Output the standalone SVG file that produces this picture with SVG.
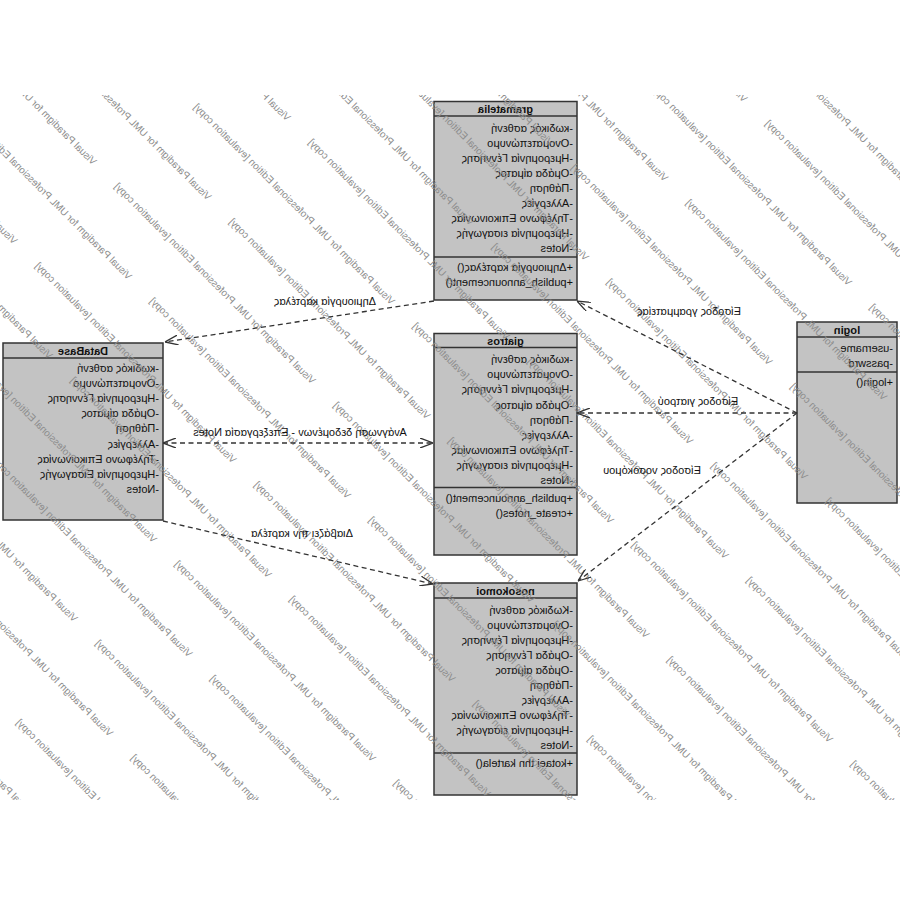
<svg xmlns="http://www.w3.org/2000/svg" width="900" height="900" viewBox="0 0 900 900">
<style>
.box{fill:#c3c3c3;stroke:#333;stroke-width:1.5}
.sep{stroke:#333;stroke-width:1.5}
.t{font-family:"Liberation Sans",Arial,sans-serif;font-size:11px;fill:#111}
.n{font-weight:bold;text-anchor:middle}
.lbl{text-anchor:middle}
.wm{font-family:"Liberation Sans",Arial,sans-serif;font-size:10px;fill:#8c8c8c}
.c{fill:none;stroke:#333;stroke-width:1.3;stroke-dasharray:5 3.5}
</style>
<defs>
<marker id="arr" viewBox="0 0 13 10" refX="13" refY="5" markerWidth="13" markerHeight="10" markerUnits="userSpaceOnUse" orient="auto-start-reverse"><path d="M0,0 L13,5 L0,10" fill="none" stroke="#333" stroke-width="1.3"/></marker>
<clipPath id="wmclip"><rect x="0" y="95" width="900" height="705"/></clipPath>
</defs>
<rect width="900" height="900" fill="#fff"/>
<g transform="matrix(-1 0 0 1 900 0)">
<g id="gramatelia">
<rect class="box" x="323" y="101.5" width="143" height="198.5"/>
<line class="sep" x1="323" y1="116" x2="466" y2="116"/>
<line class="sep" x1="323" y1="257" x2="466" y2="257"/>
<text class="t n" x="394.5" y="112.5">gramatelia</text>
<text class="t" x="327" y="132">-κωδικός ασθενή</text>
<text class="t" x="327" y="147">-Ονοματεπώνυμο</text>
<text class="t" x="327" y="162">-Ημερομηνία Γέννησης</text>
<text class="t" x="327" y="177">-Ομάδα αίματος</text>
<text class="t" x="327" y="192">-Πάθηση</text>
<text class="t" x="327" y="207">-Αλλεργίες</text>
<text class="t" x="327" y="222">-Τηλέφωνο Επικοινωνίας</text>
<text class="t" x="327" y="237">-Ημερομηνία εισαγωγής</text>
<text class="t" x="327" y="252">-Notes</text>
<text class="t" x="327" y="271">+Δημιουργία καρτέλας()</text>
<text class="t" x="327" y="286">+publish_announcement()</text>
</g>
<g id="giatros">
<rect class="box" x="323" y="333.5" width="143" height="221.5"/>
<line class="sep" x1="323" y1="347.5" x2="466" y2="347.5"/>
<line class="sep" x1="323" y1="487.5" x2="466" y2="487.5"/>
<text class="t n" x="394.5" y="344.5">giatros</text>
<text class="t" x="327" y="363">-κωδικός ασθενή</text>
<text class="t" x="327" y="378">-Ονοματεπώνυμο</text>
<text class="t" x="327" y="393">-Ημερομηνία Γέννησης</text>
<text class="t" x="327" y="408.5">-Ομάδα αίματος</text>
<text class="t" x="327" y="423.5">-Πάθηση</text>
<text class="t" x="327" y="438.5">-Αλλεργίες</text>
<text class="t" x="327" y="454">-Τηλέφωνο Επικοινωνίας</text>
<text class="t" x="327" y="469">-Ημερομηνία εισαγωγής</text>
<text class="t" x="327" y="484">-Notes</text>
<text class="t" x="327" y="502">+publish_announcement()</text>
<text class="t" x="327" y="517">+create_notes()</text>
</g>
<g id="nosokomoi">
<rect class="box" x="323" y="583" width="143" height="212"/>
<line class="sep" x1="323" y1="598" x2="466" y2="598"/>
<line class="sep" x1="323" y1="753" x2="466" y2="753"/>
<text class="t n" x="394.5" y="594.5">nosokomoi</text>
<text class="t" x="327" y="614">-Κωδικός ασθενή</text>
<text class="t" x="327" y="629">-Ονοματεπώνυμο</text>
<text class="t" x="327" y="644">-Ημερομηνία Γέννησης</text>
<text class="t" x="327" y="659">-Ομάδα Γέννησης</text>
<text class="t" x="327" y="674">-Ομάδα αίματος</text>
<text class="t" x="327" y="689">-Πάθηση</text>
<text class="t" x="327" y="704">-Αλλεργίες</text>
<text class="t" x="327" y="719">-Τηλέφωνο Επικοινωνίας</text>
<text class="t" x="327" y="734">-Ημερομηνία εισαγωγής</text>
<text class="t" x="327" y="749">-Notes</text>
<text class="t" x="327" y="767">+kotaei thn kartela()</text>
</g>
<g id="DataBase">
<rect class="box" x="737" y="343" width="160" height="177"/>
<line class="sep" x1="737" y1="358" x2="897" y2="358"/>
<text class="t n" x="817" y="354.5">DataBase</text>
<text class="t" x="741" y="372">-κωδικός ασθενή</text>
<text class="t" x="741" y="387">-Ονοματεπώνυμο</text>
<text class="t" x="741" y="402">-Ημερομηνία Γέννησης</text>
<text class="t" x="741" y="417">-Ομάδα αίματος</text>
<text class="t" x="741" y="432">-Πάθηση</text>
<text class="t" x="741" y="447.5">-Αλλεργίες</text>
<text class="t" x="741" y="462.5">-Τηλέφωνο Επικοινωνίας</text>
<text class="t" x="741" y="477.5">-Ημερομηνία Εισαγωγής</text>
<text class="t" x="741" y="493">-Notes</text>
</g>
<g id="login">
<rect class="box" x="3" y="322" width="100" height="181"/>
<line class="sep" x1="3" y1="337" x2="103" y2="337"/>
<line class="sep" x1="3" y1="372" x2="103" y2="372"/>
<text class="t n" x="53" y="333.5">login</text>
<text class="t" x="7" y="352">-username</text>
<text class="t" x="7" y="367">-passwrd</text>
<text class="t" x="7" y="386">+login()</text>
</g>
<g id="watermark" clip-path="url(#wmclip)" class="wm">
<text y="3.5" transform="translate(867.9,813.9) rotate(-45)">Visual Paradigm for UML Professional Edition [evaluation copy]</text>
<text y="3.5" transform="translate(684.3,918.3) rotate(-45)">Visual Paradigm for UML Professional Edition [evaluation copy]</text>
<text y="3.5" transform="translate(788.6,734.6) rotate(-45)">Visual Paradigm for UML Professional Edition [evaluation copy]</text>
<text y="3.5" transform="translate(569.6,953.6) rotate(-45)">Visual Paradigm for UML Professional Edition [evaluation copy]</text>
<text y="3.5" transform="translate(824,620) rotate(-45)">Visual Paradigm for UML Professional Edition [evaluation copy]</text>
<text y="3.5" transform="translate(605,839) rotate(-45)">Visual Paradigm for UML Professional Edition [evaluation copy]</text>
<text y="3.5" transform="translate(709.3,655.3) rotate(-45)">Visual Paradigm for UML Professional Edition [evaluation copy]</text>
<text y="3.5" transform="translate(490.3,874.3) rotate(-45)">Visual Paradigm for UML Professional Edition [evaluation copy]</text>
<text y="3.5" transform="translate(744.7,540.7) rotate(-45)">Visual Paradigm for UML Professional Edition [evaluation copy]</text>
<text y="3.5" transform="translate(525.7,759.7) rotate(-45)">Visual Paradigm for UML Professional Edition [evaluation copy]</text>
<text y="3.5" transform="translate(306.7,978.7) rotate(-45)">Visual Paradigm for UML Professional Edition [evaluation copy]</text>
<text y="3.5" transform="translate(849,357) rotate(-45)">Visual Paradigm for UML Professional Edition [evaluation copy]</text>
<text y="3.5" transform="translate(630,576) rotate(-45)">Visual Paradigm for UML Professional Edition [evaluation copy]</text>
<text y="3.5" transform="translate(411,795) rotate(-45)">Visual Paradigm for UML Professional Edition [evaluation copy]</text>
<text y="3.5" transform="translate(884.4,242.4) rotate(-45)">Visual Paradigm for UML Professional Edition [evaluation copy]</text>
<text y="3.5" transform="translate(665.4,461.4) rotate(-45)">Visual Paradigm for UML Professional Edition [evaluation copy]</text>
<text y="3.5" transform="translate(446.4,680.4) rotate(-45)">Visual Paradigm for UML Professional Edition [evaluation copy]</text>
<text y="3.5" transform="translate(227.4,899.4) rotate(-45)">Visual Paradigm for UML Professional Edition [evaluation copy]</text>
<text y="3.5" transform="translate(769.7,277.7) rotate(-45)">Visual Paradigm for UML Professional Edition [evaluation copy]</text>
<text y="3.5" transform="translate(550.7,496.7) rotate(-45)">Visual Paradigm for UML Professional Edition [evaluation copy]</text>
<text y="3.5" transform="translate(331.7,715.7) rotate(-45)">Visual Paradigm for UML Professional Edition [evaluation copy]</text>
<text y="3.5" transform="translate(112.7,934.7) rotate(-45)">Visual Paradigm for UML Professional Edition [evaluation copy]</text>
<text y="3.5" transform="translate(805.1,163.1) rotate(-45)">Visual Paradigm for UML Professional Edition [evaluation copy]</text>
<text y="3.5" transform="translate(586.1,382.1) rotate(-45)">Visual Paradigm for UML Professional Edition [evaluation copy]</text>
<text y="3.5" transform="translate(367.1,601.1) rotate(-45)">Visual Paradigm for UML Professional Edition [evaluation copy]</text>
<text y="3.5" transform="translate(148.1,820.1) rotate(-45)">Visual Paradigm for UML Professional Edition [evaluation copy]</text>
<text y="3.5" transform="translate(690.4,198.4) rotate(-45)">Visual Paradigm for UML Professional Edition [evaluation copy]</text>
<text y="3.5" transform="translate(471.4,417.4) rotate(-45)">Visual Paradigm for UML Professional Edition [evaluation copy]</text>
<text y="3.5" transform="translate(252.4,636.4) rotate(-45)">Visual Paradigm for UML Professional Edition [evaluation copy]</text>
<text y="3.5" transform="translate(33.4,855.4) rotate(-45)">Visual Paradigm for UML Professional Edition [evaluation copy]</text>
<text y="3.5" transform="translate(506.8,302.8) rotate(-45)">Visual Paradigm for UML Professional Edition [evaluation copy]</text>
<text y="3.5" transform="translate(287.8,521.8) rotate(-45)">Visual Paradigm for UML Professional Edition [evaluation copy]</text>
<text y="3.5" transform="translate(68.8,740.8) rotate(-45)">Visual Paradigm for UML Professional Edition [evaluation copy]</text>
<text y="3.5" transform="translate(-150.3,959.8) rotate(-45)">Visual Paradigm for UML Professional Edition [evaluation copy]</text>
<text y="3.5" transform="translate(611.1,119.1) rotate(-45)">Visual Paradigm for UML Professional Edition [evaluation copy]</text>
<text y="3.5" transform="translate(392.1,338.1) rotate(-45)">Visual Paradigm for UML Professional Edition [evaluation copy]</text>
<text y="3.5" transform="translate(173.1,557.1) rotate(-45)">Visual Paradigm for UML Professional Edition [evaluation copy]</text>
<text y="3.5" transform="translate(-45.9,776.1) rotate(-45)">Visual Paradigm for UML Professional Edition [evaluation copy]</text>
<text y="3.5" transform="translate(427.5,223.5) rotate(-45)">Visual Paradigm for UML Professional Edition [evaluation copy]</text>
<text y="3.5" transform="translate(208.5,442.5) rotate(-45)">Visual Paradigm for UML Professional Edition [evaluation copy]</text>
<text y="3.5" transform="translate(-10.6,661.5) rotate(-45)">Visual Paradigm for UML Professional Edition [evaluation copy]</text>
<text y="3.5" transform="translate(312.8,258.8) rotate(-45)">Visual Paradigm for UML Professional Edition [evaluation copy]</text>
<text y="3.5" transform="translate(93.8,477.8) rotate(-45)">Visual Paradigm for UML Professional Edition [evaluation copy]</text>
<text y="3.5" transform="translate(-125.2,696.8) rotate(-45)">Visual Paradigm for UML Professional Edition [evaluation copy]</text>
<text y="3.5" transform="translate(348.2,144.2) rotate(-45)">Visual Paradigm for UML Professional Edition [evaluation copy]</text>
<text y="3.5" transform="translate(129.2,363.2) rotate(-45)">Visual Paradigm for UML Professional Edition [evaluation copy]</text>
<text y="3.5" transform="translate(-89.9,582.2) rotate(-45)">Visual Paradigm for UML Professional Edition [evaluation copy]</text>
<text y="3.5" transform="translate(233.5,179.5) rotate(-45)">Visual Paradigm for UML Professional Edition [evaluation copy]</text>
<text y="3.5" transform="translate(14.5,398.5) rotate(-45)">Visual Paradigm for UML Professional Edition [evaluation copy]</text>
<text y="3.5" transform="translate(49.9,283.9) rotate(-45)">Visual Paradigm for UML Professional Edition [evaluation copy]</text>
<text y="3.5" transform="translate(-169.2,502.9) rotate(-45)">Visual Paradigm for UML Professional Edition [evaluation copy]</text>
<text y="3.5" transform="translate(154.2,100.2) rotate(-45)">Visual Paradigm for UML Professional Edition [evaluation copy]</text>
<text y="3.5" transform="translate(-64.8,319.2) rotate(-45)">Visual Paradigm for UML Professional Edition [evaluation copy]</text>
<text y="3.5" transform="translate(-29.5,204.6) rotate(-45)">Visual Paradigm for UML Professional Edition [evaluation copy]</text>
</g>
<g id="connectors">
<line class="c" x1="466" y1="301" x2="735" y2="342" marker-end="url(#arr)"/>
<text class="t lbl" x="575" y="305">Δημιουργία καρτέλας</text>
<line class="c" x1="737" y1="443" x2="467" y2="443" marker-start="url(#arr)" marker-end="url(#arr)"/>
<text class="t lbl" x="600" y="436">Ανάγνωση δεδομένων - Επεξεργασία Notes</text>
<line class="c" x1="737" y1="521" x2="467" y2="584" marker-end="url(#arr)"/>
<text class="t lbl" x="598" y="537">Διαβάζει την καρτέλα</text>
<line class="c" x1="103" y1="413" x2="323" y2="301" marker-end="url(#arr)"/>
<text class="t lbl" x="211" y="315">Είσοδος γραμματείας</text>
<line class="c" x1="103" y1="413" x2="323" y2="413" marker-end="url(#arr)"/>
<text class="t lbl" x="202" y="405">Είσοδος γιατρού</text>
<line class="c" x1="103" y1="413" x2="322" y2="581" marker-end="url(#arr)"/>
<text class="t lbl" x="248" y="474">Είσοδος νοσοκόμου</text>
</g>
</g>
</svg>
